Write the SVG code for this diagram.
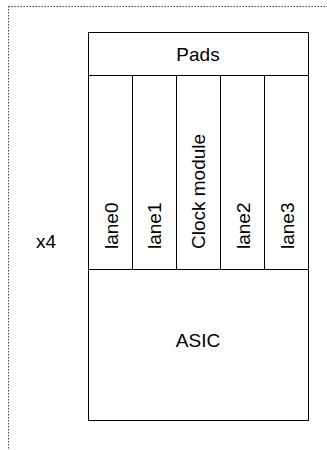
<svg xmlns="http://www.w3.org/2000/svg" width="327" height="450" viewBox="0 0 327 450">
<style>
.box{fill:#fff;stroke:#000;stroke-width:1}
.t{font-family:"Liberation Sans",Arial,sans-serif;font-size:19px;fill:#000}
.c{text-anchor:middle}
</style>
<rect width="327" height="450" fill="#fff"/>
<g id="frame"><rect x="8.5" y="6.5" width="340" height="460" fill="none" stroke="#444" stroke-width="1" stroke-dasharray="1.5 1.5"/></g>
<g id="x4"><text class="t c" x="46" y="248">x4</text></g>
<g id="pads"><rect class="box" x="88.5" y="32.5" width="220" height="43"/><text class="t c" x="198" y="61">Pads</text></g>
<g id="lane0"><rect class="box" x="88.5" y="75.5" width="44" height="194"/><text class="t" transform="translate(117.5,249) rotate(-90)">lane0</text></g>
<g id="lane1"><rect class="box" x="132.5" y="75.5" width="44" height="194"/><text class="t" transform="translate(160.5,249) rotate(-90)">lane1</text></g>
<g id="clock"><rect class="box" x="176.5" y="75.5" width="44" height="194"/><text class="t" transform="translate(205,249) rotate(-90)">Clock module</text></g>
<g id="lane2"><rect class="box" x="220.5" y="75.5" width="44" height="194"/><text class="t" transform="translate(249.5,249) rotate(-90)">lane2</text></g>
<g id="lane3"><rect class="box" x="264.5" y="75.5" width="44" height="194"/><text class="t" transform="translate(294,249) rotate(-90)">lane3</text></g>
<g id="asic"><rect class="box" x="88.5" y="269.5" width="220" height="151"/><text class="t c" x="198" y="347">ASIC</text></g>
<g id="connectors"></g>
</svg>
